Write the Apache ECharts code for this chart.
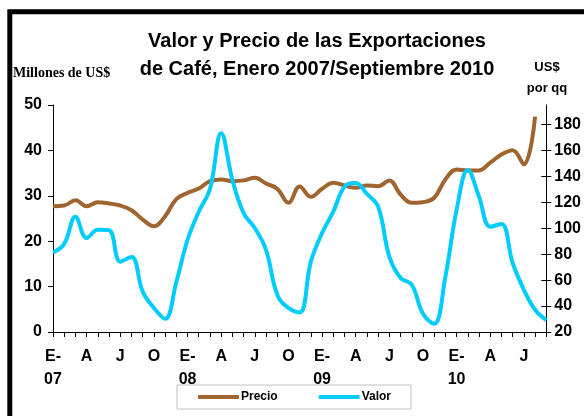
<!DOCTYPE html>
<html>
<head>
    <meta charset="utf-8">
    <title>Exportaciones de Café</title>
    <script src="https://cdn.jsdelivr.net/npm/echarts@6/dist/echarts.min.js"></script>
    <style>
        html, body { margin: 0; padding: 0; background: #fff; }
    </style>
</head>
<body>
    <div id="div_cafe" style="width: 584px; height: 416px;"></div>

    <script type="text/javascript">
        // meses Ene 2007 - Sep 2010
        var meses = [
            'E-\n07', 'F', 'M', 'A', 'M', 'J', 'J', 'A', 'S', 'O', 'N', 'D',
            'E-\n08', 'F', 'M', 'A', 'M', 'J', 'J', 'A', 'S', 'O', 'N', 'D',
            'E-\n09', 'F', 'M', 'A', 'M', 'J', 'J', 'A', 'S', 'O', 'N', 'D',
            'E-\n10', 'F', 'M', 'A', 'M', 'J', 'J', 'A', 'S'
        ];
        // millones de US$
        var valor = [
            17.5, 19.4, 25.4, 20.7, 22.5, 22.4, 15.5, 16.5, 8.9, 5.3, 2.9, 11.0,
            20.3, 26.5, 31.5, 43.8, 33.5, 26.2, 22.9, 18.1, 8.2, 5.3, 4.3, 15.5,
            21.8, 26.5, 32.0, 32.8, 30.4, 27.6, 16.6, 11.9, 10.4, 4.0, 1.8, 12.2,
            26.9, 35.7, 29.8, 23.2, 23.8, 15.2, 9.3, 4.9, 2.6
        ];
        // US$ por qq
        var precio = [
            117.0, 117.5, 121.6, 117.0, 120.1, 119.1, 117.5, 113.9, 106.7, 101.5, 109.3, 122.5,
            127.3, 130.6, 136.3, 137.6, 136.3, 136.9, 138.9, 134.5, 130.5, 119.6, 132.2, 124.2,
            130.4, 135.1, 133.0, 131.2, 133.0, 132.4, 136.8, 126.0, 119.6, 120.1, 123.5, 137.6,
            145.3, 144.6, 144.6, 150.5, 156.9, 160.2, 149.2, 186.0, null
        ];
        var ticksDerecha = [20, 40, 60, 80, 100, 120, 140, 160, 180];

        var fuente = '"Liberation Sans", Arial, sans-serif';
        var chart = echarts.init(document.getElementById('div_cafe'));

        chart.setOption({
            animation: false,
            title: [
                {
                    text: 'Valor y Precio de las Exportaciones\nde Café, Enero 2007/Septiembre 2010',
                    left: 317,
                    top: 27,
                    textAlign: 'center',
                    padding: 0,
                    textStyle: { fontFamily: fuente, fontSize: 20, fontWeight: 'bold', color: '#000', lineHeight: 28 }
                },
                {
                    text: 'Millones de US$',
                    left: 13,
                    top: 65,
                    padding: 0,
                    textStyle: { fontFamily: '"Liberation Serif", "Times New Roman", serif', fontSize: 14, fontWeight: 'bold', color: '#000', lineHeight: 16 }
                },
                {
                    text: 'US$\npor qq',
                    left: 547,
                    top: 57,
                    textAlign: 'center',
                    padding: 0,
                    textStyle: { fontFamily: fuente, fontSize: 13, fontWeight: 'bold', color: '#000', lineHeight: 21, align: 'center' }
                }
            ],
            graphic: [
                {
                    type: 'rect',
                    shape: { x: 9.8, y: 11.8, width: 800, height: 600 },
                    style: { fill: 'none', stroke: '#000', lineWidth: 5 },
                    silent: true
                }
            ],
            legend: {
                data: ['Precio', 'Valor'],
                left: 177,
                top: 385,
                padding: [6, 20, 6, 21],
                borderColor: '#c0c0c0',
                borderWidth: 1,
                itemWidth: 41,
                itemHeight: 4,
                itemGap: 41,
                icon: 'roundRect',
                textStyle: { fontFamily: fuente, fontSize: 12, fontWeight: 'bold', color: '#000', padding: [0, 0, 0, -3] }
            },
            grid: { left: 53, right: 36, top: 105, bottom: 84 },
            xAxis: {
                type: 'category',
                data: meses,
                boundaryGap: false,
                axisLine: { lineStyle: { color: '#000', width: 1 } },
                axisTick: { interval: 0, length: 5, lineStyle: { color: '#000' } },
                axisLabel: {
                    interval: 2,
                    margin: 13,
                    fontFamily: fuente, fontSize: 16, fontWeight: 'bold', color: '#000',
                    lineHeight: 23
                },
                splitLine: { show: false }
            },
            yAxis: [
                {
                    type: 'value',
                    min: 0, max: 50, interval: 10,
                    position: 'left',
                    axisLine: { show: true, lineStyle: { color: '#000', width: 1 } },
                    axisTick: { show: true, length: 5, lineStyle: { color: '#000' } },
                    axisLabel: { margin: 11, fontFamily: fuente, fontSize: 16, fontWeight: 'bold', color: '#000' },
                    splitLine: { show: false }
                },
                {
                    type: 'value',
                    min: 20, max: 195,
                    position: 'right',
                    axisLine: { show: true, lineStyle: { color: '#000', width: 1 } },
                    axisTick: { show: true, length: 5, customValues: ticksDerecha, lineStyle: { color: '#000' } },
                    axisLabel: { margin: 8, customValues: ticksDerecha, fontFamily: fuente, fontSize: 16, fontWeight: 'bold', color: '#000' },
                    splitLine: { show: false }
                },
                {
                    // marcas hacia dentro del eje derecho (cruzan la linea)
                    type: 'value',
                    min: 20, max: 195,
                    position: 'right',
                    axisLine: { show: false },
                    axisTick: { show: true, inside: true, length: 5, customValues: ticksDerecha, lineStyle: { color: '#000' } },
                    axisLabel: { show: false },
                    splitLine: { show: false }
                }
            ],
            series: [
                {
                    name: 'Precio',
                    type: 'line',
                    yAxisIndex: 1,
                    data: precio,
                    smooth: 0.4,
                    symbol: 'none',
                    color: '#a0652f',
                    lineStyle: { width: 4, color: '#a0652f' }
                },
                {
                    name: 'Valor',
                    type: 'line',
                    yAxisIndex: 0,
                    data: valor,
                    smooth: 0.4,
                    symbol: 'none',
                    color: '#00ccff',
                    lineStyle: { width: 4, color: '#00ccff' }
                }
            ]
        });
    </script>
</body>
</html>
